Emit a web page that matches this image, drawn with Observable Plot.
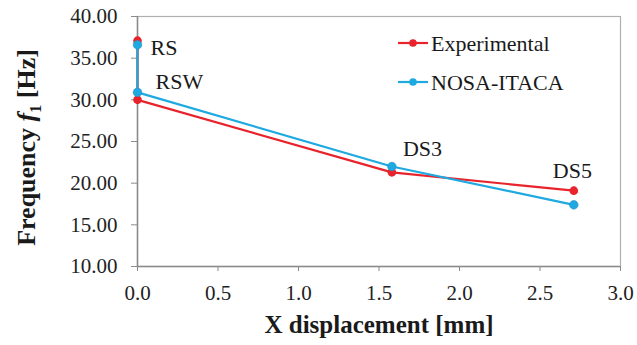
<!DOCTYPE html>
<html>
<head>
<meta charset="utf-8">
<script src="https://cdn.jsdelivr.net/npm/d3@7"></script>
<script src="https://cdn.jsdelivr.net/npm/@observablehq/plot@0.6"></script>
<style>
  html, body { margin: 0; padding: 0; background: white; }
  #wrap { position: relative; width: 637px; height: 345px; }
  #legend { position: absolute; left: 392px; top: 26px; }
</style>
</head>
<body>
<div id="wrap"></div>
<script>
const stateNames = ["RS", "RSW", "DS3", "DS5"];
const xDisplacement = [0, 0, 1.58, 2.71];
const experimental = [37.1, 30.0, 21.3, 19.1];
const nosaItaca = [36.6, 30.9, 22.0, 17.4];
const xTicks = [0, 0.5, 1.0, 1.5, 2.0, 2.5, 3.0];
const yTicks = [10, 15, 20, 25, 30, 35, 40];
const seriesNames = ["Experimental", "NOSA-ITACA"];
const seriesColors = ["#e8232b", "#1ea9e1"];

const expData = stateNames.map((s, i) => ({name: s, x: xDisplacement[i], y: experimental[i]}));
const nosaData = stateNames.map((s, i) => ({name: s, x: xDisplacement[i], y: nosaItaca[i]}));

// label offsets (style only)
const labelOffsets = {RS: [13, 3, nosaData], RSW: [18, -10, nosaData], DS3: [11, -18, nosaData], DS5: [-21, -20, expData]};
const labelData = stateNames.map(s => {
  const [dx, dy, src] = labelOffsets[s];
  const d = src.find(e => e.name === s);
  return {name: s, x: d.x, y: d.y, dx, dy};
});

const font = "'Liberation Serif', 'Times New Roman', Times, 'DejaVu Serif', serif";
const plot = Plot.plot({
  width: 637,
  height: 345,
  marginLeft: 137,
  marginRight: 17,
  marginTop: 16,
  marginBottom: 79,
  style: {fontFamily: font, fontSize: "21px", color: "#222", background: "white", overflow: "visible"},
  x: {domain: [0, 3]},
  y: {domain: [10, 40]},
  marks: [
    Plot.frame({stroke: "#b0b0b0", strokeWidth: 1.2}),
    Plot.axisX({ticks: xTicks, tickFormat: d3.format(".1f"), tickSize: 5, tickPadding: 14, label: null, stroke: "#8a8a8a", fontSize: 21, fontFamily: font, fill: "#222"}),
    Plot.axisY({ticks: yTicks, tickFormat: d3.format(".2f"), tickSize: 6, tickPadding: 14, label: null, stroke: "#8a8a8a", fontSize: 21, fontFamily: font, fill: "#222"}),
    Plot.ruleY([10], {stroke: "#8a8a8a", strokeWidth: 1.5}),
    Plot.ruleX([0], {stroke: "#8a8a8a", strokeWidth: 1.5}),
    Plot.line(expData, {x: "x", y: "y", stroke: seriesColors[0], strokeWidth: 2.2}),
    Plot.line(nosaData, {x: "x", y: "y", stroke: seriesColors[1], strokeWidth: 2.2}),
    Plot.dot(expData, {x: "x", y: "y", r: 4.3, fill: seriesColors[0], stroke: "none"}),
    Plot.dot(nosaData, {x: "x", y: "y", r: 4.3, fill: seriesColors[1], stroke: "#2a8fc4", strokeWidth: 0.6}),
    ...labelData.map(d => Plot.text([d], {x: "x", y: "y", text: "name", dx: d.dx, dy: d.dy, textAnchor: "start", fontSize: 22, fontFamily: font, fill: "#1a1a1a"})),
    Plot.text(["X displacement [mm]"], {frameAnchor: "bottom", dy: 66, fontWeight: "bold", fontSize: 25, fontFamily: font, fill: "#1a1a1a"}),
    Plot.text(["Frequency f1 [Hz]"], {frameAnchor: "left", dx: -111, dy: 6, textAnchor: "middle", rotate: -90, fontWeight: "bold", fontSize: 26, fontFamily: font, fill: "#1a1a1a", className: "ytitle"})
  ]
});

// rich y title: italic f with subscript 1
const yt = d3.select(plot).select(".ytitle text");
yt.text(null);
yt.append("tspan").text("Frequency ");
yt.append("tspan").attr("font-style", "italic").text("f");
yt.append("tspan").attr("font-size", 16).attr("dy", 6).text("1");
yt.append("tspan").attr("dy", -6).text(" [Hz]");

const wrap = document.getElementById("wrap");
wrap.appendChild(plot);

// legend
const leg = d3.create("svg").attr("id", "legend").attr("width", 240).attr("height", 80);
seriesNames.forEach((name, i) => {
  const g = leg.append("g").attr("transform", `translate(0, ${17 + i * 39})`);
  g.append("line").attr("x1", 6).attr("x2", 36).attr("y1", 0).attr("y2", 0).attr("stroke", seriesColors[i]).attr("stroke-width", 2.2);
  g.append("circle").attr("cx", 21).attr("cy", 0).attr("r", 3.8).attr("fill", seriesColors[i]);
  g.append("text").attr("x", 39).attr("y", 0).attr("dy", "0.35em").attr("font-family", font).attr("font-size", 22).attr("fill", "#1a1a1a").text(name);
});
wrap.appendChild(leg.node());
</script>
</body>
</html>
